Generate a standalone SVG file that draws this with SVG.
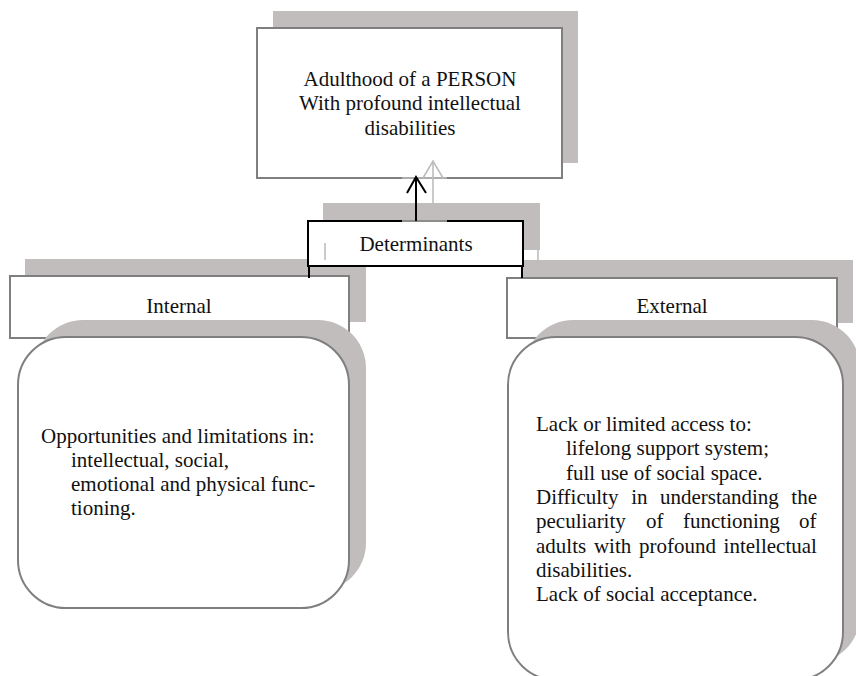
<svg xmlns="http://www.w3.org/2000/svg" width="856" height="676" viewBox="0 0 856 676">
<style>
.sh{fill:#c1bdbc;stroke:none}
.bx{fill:#fff;stroke:#7f7f7f;stroke-width:2}
.t{font-family:"Liberation Serif","Times New Roman",serif;font-size:21px;fill:#111}
.c{text-anchor:middle}
.blk{stroke:#000;stroke-width:2;fill:none}
.lg{stroke:#bdbdbd;stroke-width:1.6;fill:none}
</style>
<rect width="856" height="676" fill="#fff"/>
<g id="node-top">
<rect class="sh" x="273" y="11" width="305" height="152"/>
<rect class="bx" x="257" y="28" width="305" height="150"/>
<text class="t c" x="410" y="86">Adulthood of a PERSON</text>
<text class="t c" x="410" y="110">With profound intellectual</text>
<text class="t c" x="410" y="135">disabilities</text>
</g>
<g id="node-internal">
<rect class="sh" x="25" y="259" width="341" height="63"/>
<rect class="bx" x="10" y="276" width="339" height="62"/>
<text class="t c" x="179" y="313">Internal</text>
</g>
<g id="node-external">
<rect class="sh" x="523" y="260" width="330" height="63"/>
<rect class="bx" x="507" y="278" width="330" height="60"/>
<text class="t c" x="672" y="313">External</text>
</g>
<g id="node-internal-body">
<rect class="sh" x="35" y="320" width="331" height="271" rx="48" ry="48"/>
<rect class="bx" x="18" y="337" width="331" height="271" rx="48" ry="48"/>
<text class="t" x="41" y="443">Opportunities and limitations in:</text>
<text class="t" x="71" y="467">intellectual, social,</text>
<text class="t" x="71" y="491">emotional and physical func-</text>
<text class="t" x="71" y="515">tioning.</text>
</g>
<g id="node-external-body">
<rect class="sh" x="525" y="320" width="335" height="343" rx="48" ry="48"/>
<rect class="bx" x="508" y="337" width="335" height="343" rx="48" ry="48"/>
<text class="t" x="536" y="431">Lack or limited access to:</text>
<text class="t" x="566" y="455.3">lifelong support system;</text>
<text class="t" x="566" y="479.6">full use of social space.</text>
<text class="t" y="503.9"><tspan x="536">Difficulty</tspan><tspan x="631.2">in</tspan><tspan x="659.9">understanding</tspan><tspan x="791.3">the</tspan></text>
<text class="t" y="528.2"><tspan x="536">peculiarity</tspan><tspan x="646">of</tspan><tspan x="683">functioning</tspan><tspan x="799">of</tspan></text>
<text class="t" y="552.5"><tspan x="536">adults</tspan><tspan x="593.9">with</tspan><tspan x="638.9">profound</tspan><tspan x="723.6">intellectual</tspan></text>
<text class="t" x="536" y="576.8">disabilities.</text>
<text class="t" x="536" y="601.1">Lack of social acceptance.</text>
</g>
<g id="node-determinants">
<rect class="sh" x="323" y="203" width="217" height="47"/>
<rect x="308" y="221" width="215" height="45" fill="#fff" stroke="#000" stroke-width="2"/>
<text class="t c" x="416" y="251">Determinants</text>
</g>
<g id="connectors">
<line class="lg" x1="402" y1="178" x2="447" y2="178"/>
<line class="lg" x1="402" y1="221" x2="447" y2="221"/>
<path class="lg" d="M433 205 V161 M423 178 L433 161 L443 178"/>
<path class="blk" d="M416 221 V177 M407 193 L416 177 L426 193"/>
<path class="blk" d="M309 266 V278 M522 266 V278"/>
<path class="lg" d="M325 243 V260 M538 249 V262"/>
</g>
</svg>
